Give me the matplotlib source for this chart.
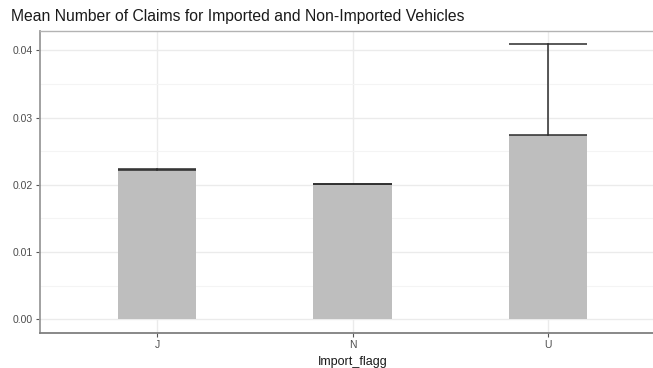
import matplotlib
matplotlib.use("Agg")
import matplotlib.pyplot as plt
import numpy as np
from matplotlib.ticker import MultipleLocator

# Mean claims per import flag, and the upper end of each error bar
categories = ["J", "N", "U"]
mean_claims = [0.02216, 0.02007, 0.02736]
upper_claims = [0.02232, 0.02015, 0.04090]

plt.rcParams["font.family"] = ["Liberation Sans", "DejaVu Sans"]

fig = plt.figure(figsize=(6.53, 3.68), dpi=100)
ax = fig.add_axes([40 / 653, 35 / 368, 625 / 653, 302.5 / 368])

x = np.arange(len(categories))
bar_w = 0.4

ax.bar(x, mean_claims, width=bar_w, color="#BEBEBE", zorder=2)

# error bars from the mean up to the upper bound, with caps at both ends
for xi, lo, hi in zip(x, mean_claims, upper_claims):
    ax.plot([xi, xi], [lo, hi], color="#2B2B2B", lw=1.1, zorder=3)
    for yv in (lo, hi):
        ax.plot([xi - bar_w / 2, xi + bar_w / 2], [yv, yv],
                color="#2B2B2B", lw=1.1, zorder=3, solid_capstyle="butt")

ax.set_xlim(-0.6, 2.6)
ymax = max(upper_claims)

ax.set_xticks(x)
ax.set_xticklabels(categories)
ax.yaxis.set_major_locator(MultipleLocator(0.01))
ax.yaxis.set_minor_locator(MultipleLocator(0.005))
ax.set_ylim(-0.05 * ymax, 1.05 * ymax)
ax.yaxis.set_major_formatter(matplotlib.ticker.FormatStrFormatter("%.2f"))

ax.grid(which="major", color="#EBEBEB", lw=1.0, zorder=0)
ax.grid(which="minor", axis="y", color="#F4F4F4", lw=0.8, zorder=0)
ax.set_axisbelow(True)

ax.tick_params(axis="both", which="major", length=3, width=0.8, color="#555555",
               labelsize=7.5, labelcolor="#4D4D4D", pad=2)
ax.tick_params(axis="both", which="minor", length=0)

for side in ("top", "right"):
    ax.spines[side].set_color("#B3B3B3")
    ax.spines[side].set_linewidth(1.0)
ax.spines["left"].set_color("#9A9A9A")
ax.spines["left"].set_linewidth(1.3)
ax.spines["bottom"].set_color("#7F7F7F")
ax.spines["bottom"].set_linewidth(1.3)

ax.set_xlabel("Import_flagg", fontsize=9, color="#1A1A1A", labelpad=4)
fig.text(11 / 653, 1 - 17 / 368, "Mean Number of Claims for Imported and Non-Imported Vehicles",
         fontsize=11.3, color="#1A1A1A", ha="left", va="center")

fig.savefig("out.png", dpi=100)
